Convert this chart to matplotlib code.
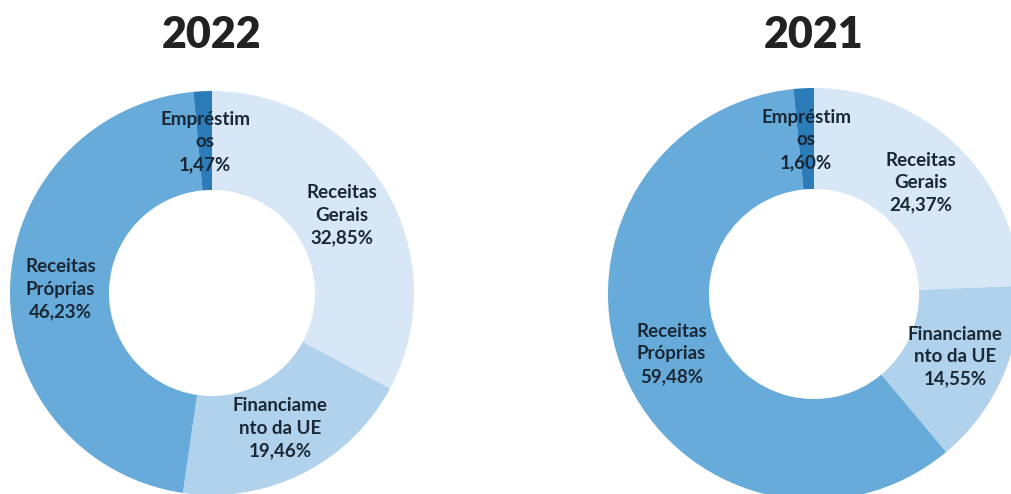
import matplotlib
matplotlib.use('Agg')
import matplotlib.pyplot as plt

plt.rcParams['font.family'] = ['Lato', 'DejaVu Sans']

# Estrutura das receitas por ano (%)
categories = ['Receitas\nGerais', 'Financiame\nnto da UE', 'Receitas\nPróprias', 'Empréstim\nos']
values_2022 = [32.85, 19.46, 46.23, 1.47]
values_2021 = [24.37, 14.55, 59.48, 1.60]
years = ['2022', '2021']

colors = ['#d7e7f5', '#b1d2ec', '#66abda', '#2b7cb9']
text_color = '#1a2835'

W, H = 1011, 494
fig = plt.figure(figsize=(W / 100, H / 100), dpi=100)


def donut(center, radius, values, year):
    cx, cy = center
    ax = fig.add_axes([(cx - radius) / W, (H - cy - radius) / H,
                       2 * radius / W, 2 * radius / H])
    labels = [f"{c}\n{v:.2f}%".replace('.', ',') for c, v in zip(categories, values)]
    wedges, texts = ax.pie(values, labels=labels, colors=colors, startangle=90,
                           counterclock=False, labeldistance=0.75,
                           wedgeprops=dict(width=0.49, linewidth=0),
                           textprops=dict(fontsize=13.5, fontweight='bold',
                                          color=text_color, linespacing=1.4))
    for t in texts:
        t.set_horizontalalignment('center')
        t.set_verticalalignment('center')
    ax.set_xlim(-1, 1)
    ax.set_ylim(-1, 1)
    ax.set_aspect('equal')
    ax.axis('off')
    fig.text(cx / W, 1 - 35 / H, year, ha='center', va='center',
             fontsize=31, fontweight='heavy', color='#222222')


donut((212, 293), 202, values_2022, years[0])
donut((814, 294), 206, values_2021, years[1])

fig.savefig('out.png', dpi=100)
